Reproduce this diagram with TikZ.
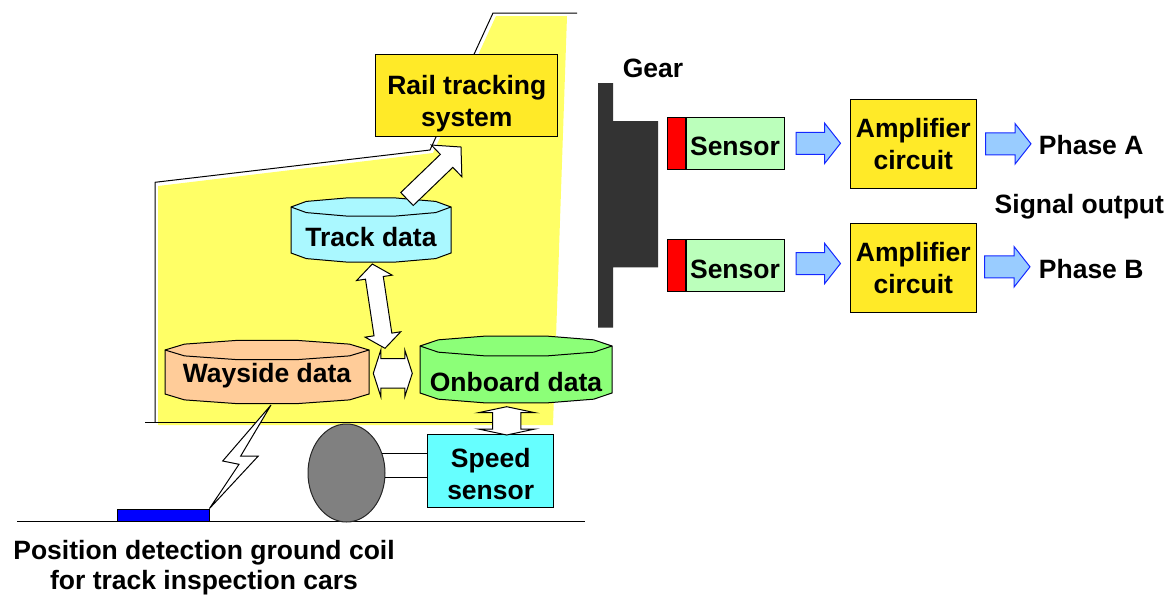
\documentclass[tikz,border=0pt]{standalone}
\usepackage{fontspec}
\setmainfont{Liberation Sans}
\usetikzlibrary{calc,shapes.geometric}

\definecolor{bodyyellow}{RGB}{255,255,102}
\definecolor{boxyellow}{RGB}{255,234,40}
\definecolor{trackcyan}{RGB}{170,248,255}
\definecolor{waysidepeach}{RGB}{255,204,153}
\definecolor{onboardgreen}{RGB}{140,255,120}
\definecolor{sensorgreen}{RGB}{187,255,187}
\definecolor{speedcyan}{RGB}{102,255,255}
\definecolor{flowblue}{RGB}{153,204,255}
\definecolor{flowedge}{RGB}{20,40,255}
\definecolor{geargray}{RGB}{51,51,51}
\definecolor{wheelgray}{RGB}{128,128,128}

% single block arrow: style, tail, tip, shaft half-width, head half-width, head length
\newcommand\blockarrow[6]{%
  \draw[#1] ($#2!#4!90:#3$) -- ($#3!#6!#2!#4!-90:#2$) -- ($#3!#6!#2!#5!-90:#2$) -- #3
    -- ($#3!#6!#2!#5!90:#2$) -- ($#3!#6!#2!#4!90:#2$) -- ($#2!#4!-90:#3$) -- cycle;}
% double block arrow: style, tip, tip, shaft half-width, head half-width, head length
\newcommand\dblockarrow[6]{%
  \draw[#1] #2 -- ($#2!#6!#3!#5!90:#3$) -- ($#2!#6!#3!#4!90:#3$)
    -- ($#3!#6!#2!#4!-90:#2$) -- ($#3!#6!#2!#5!-90:#2$) -- #3
    -- ($#3!#6!#2!#5!90:#2$) -- ($#3!#6!#2!#4!90:#2$)
    -- ($#2!#6!#3!#4!-90:#3$) -- ($#2!#6!#3!#5!-90:#3$) -- cycle;}
% faceted database drum: name, fill, left, right, top centre y, bottom centre y, radius y, text y, text
\newcommand\datacyl[9]{%
  \pgfmathsetmacro\cylcx{(#3+#4)/2}%
  \pgfmathsetmacro\cylrx{(#4-#3)/2}%
  \filldraw[draw=black, line width=1pt, fill=#2]
    plot[domain=0:180, samples=6] ({\cylcx+\cylrx*cos(\x)},{#5-#7*sin(\x)})
    -- plot[domain=180:360, samples=6] ({\cylcx+\cylrx*cos(\x)},{#6-#7*sin(\x)}) -- cycle;
  \draw[black, line width=1pt]
    plot[domain=180:360, samples=6] ({\cylcx+\cylrx*cos(\x)},{#5-#7*sin(\x)});
  \node[lbl, text depth=0pt] (#1) at (\cylcx,#8) {#9};}

\begin{document}
\begin{tikzpicture}[x=1pt, y=-1pt, line join=miter,
  lbl/.style={font=\fontsize{26.5}{32}\selectfont\bfseries, inner sep=0pt, align=center},
  blockbox/.style={lbl, draw=black, line width=1pt, text depth=0pt},
  outline/.style={draw=black, line width=1pt},
  hollowarrow/.style={draw=black, line width=1pt, fill=white},
  flowarrow/.style={draw=flowedge, line width=1pt, fill=flowblue},
]
\useasboundingbox (0,0) rectangle (1170,595);

% car body
\fill[bodyyellow] (158,425) -- (553,425) -- (567,16) -- (496,16) -- (433,153) -- (158,186) -- cycle;
\draw[outline] (155,422) -- (155,182.3) -- (430,150) -- (493,13) -- (577,13);
\draw[outline] (145,422) -- (505,422);

% on-board equipment
\node[blockbox, text height=62pt, fill=boxyellow, minimum width=182pt, minimum height=82.5pt] (rail) at (466.8,95.5) {Rail tracking\\system};

\datacyl{track}{trackcyan}{291}{451}{207}{253}{9.5}{237}{Track data}
\datacyl{wayside}{waysidepeach}{165}{369}{350}{394}{10}{373}{Wayside data}
\datacyl{onboard}{onboardgreen}{420}{612}{346}{393}{10.5}{381.7}{Onboard data}

\node[blockbox, text height=57pt, fill=speedcyan, minimum width=126pt, minimum height=72.7pt] (speed) at (490.7,471.3) {Speed\\sensor};

% data exchange arrows
\coordinate (tr-a) at (407,199);
\coordinate (tr-b) at (461,147);
\blockarrow{hollowarrow}{(tr-a)}{(tr-b)}{9pt}{22pt}{20pt}
\coordinate (tv-a) at (372.3,264);
\coordinate (tv-b) at (385,348.3);
\dblockarrow{hollowarrow}{(tv-a)}{(tv-b)}{9pt}{18pt}{14pt}
\coordinate (wo-a) at (373.3,373.3);
\coordinate (wo-b) at (412.3,373.3);
\dblockarrow{hollowarrow}{(wo-a)}{(wo-b)}{14.7pt}{23.3pt}{7.5pt}
\coordinate (os-a) at (506.7,406.7);
\coordinate (os-b) at (506.7,435);
\dblockarrow{hollowarrow}{(os-a)}{(os-b)}{14.2pt}{28.3pt}{6pt}

% track, wheel and ground coil
\draw[line width=1pt] (17,521.5) -- (585,521.5);
\node[ellipse, draw=black!85, fill=wheelgray, line width=1pt, minimum width=77pt, minimum height=98pt, inner sep=0pt] (wheel) at (346.5,473) {};
\draw[line width=1pt] (wheel.28) -- (wheel.28 -| speed.west);
\draw[line width=1pt] (wheel.-7) -- (wheel.-7 -| speed.west);
\node[draw=black, fill=blue, line width=1pt, minimum width=92pt, minimum height=12pt, inner sep=0pt] (coil) at (163.5,515.5) {};
\draw[line width=1pt, fill=white] (271,405) -- (222.7,461) -- (239,464.3) -- (209.5,508.5) -- (258.3,456) -- (240.7,456) -- cycle;
\node[lbl, font=\fontsize{26.5}{30}\selectfont\bfseries] (coillbl) at (204,567.5) {Position detection ground coil\\for track inspection cars};

% gear and pick-up sensors
\fill[geargray] (598,83) -- (613,83) -- (613,121) -- (658,121) -- (658,267.3) -- (613,267.3) -- (613,327.5) -- (598,327.5) -- cycle;
\node[lbl, anchor=base] (gearlbl) at (653,77.5) {Gear};

\node[blockbox, text height=25pt, fill=sensorgreen, minimum width=98pt, minimum height=52pt] (sensA) at (735,143.3) {Sensor};
\node[draw=black, fill=red, line width=1pt, minimum width=17.2pt, minimum height=52pt, inner sep=0pt, anchor=east] (tipA) at (sensA.west) {};
\node[blockbox, text height=25pt, fill=sensorgreen, minimum width=98pt, minimum height=52pt] (sensB) at (735,265.5) {Sensor};
\node[draw=black, fill=red, line width=1pt, minimum width=17.2pt, minimum height=52pt, inner sep=0pt, anchor=east] (tipB) at (sensB.west) {};

\node[blockbox, fill=boxyellow, minimum width=126.6pt, minimum height=89pt] (ampA) at (913.3,143.8) {Amplifier\\circuit};
\node[blockbox, fill=boxyellow, minimum width=126.6pt, minimum height=89pt] (ampB) at (913.3,267.8) {Amplifier\\circuit};

\coordinate (a1s) at ($(sensA.east)+(11.6,0)$);
\coordinate (a1e) at ($(ampA.west |- a1s)+(-9,0)$);
\blockarrow{flowarrow}{(a1s)}{(a1e)}{11pt}{20.3pt}{16pt}
\coordinate (a2s) at ($(ampA.east)+(8.4,0)$);
\coordinate (a2e) at ($(a2s)+(45.5,0)$);
\blockarrow{flowarrow}{(a2s)}{(a2e)}{11pt}{20.3pt}{16pt}
\coordinate (b1s) at ($(sensB.east)+(11.6,-2)$);
\coordinate (b1e) at ($(ampB.west |- b1s)+(-9,0)$);
\blockarrow{flowarrow}{(b1s)}{(b1e)}{11pt}{20.3pt}{16pt}
\coordinate (b2s) at ($(ampB.east)+(7.4,-1)$);
\coordinate (b2e) at ($(b2s)+(45.5,0)$);
\blockarrow{flowarrow}{(b2s)}{(b2e)}{11pt}{20.3pt}{16pt}

\node[lbl, anchor=base west] (phaseA) at (1038.7,154.3) {Phase A};
\node[lbl, anchor=base west] (sigout) at (994.5,213.3) {Signal output};
\node[lbl, anchor=base west] (phaseB) at (1038.7,278.3) {Phase B};
\end{tikzpicture}
\end{document}
